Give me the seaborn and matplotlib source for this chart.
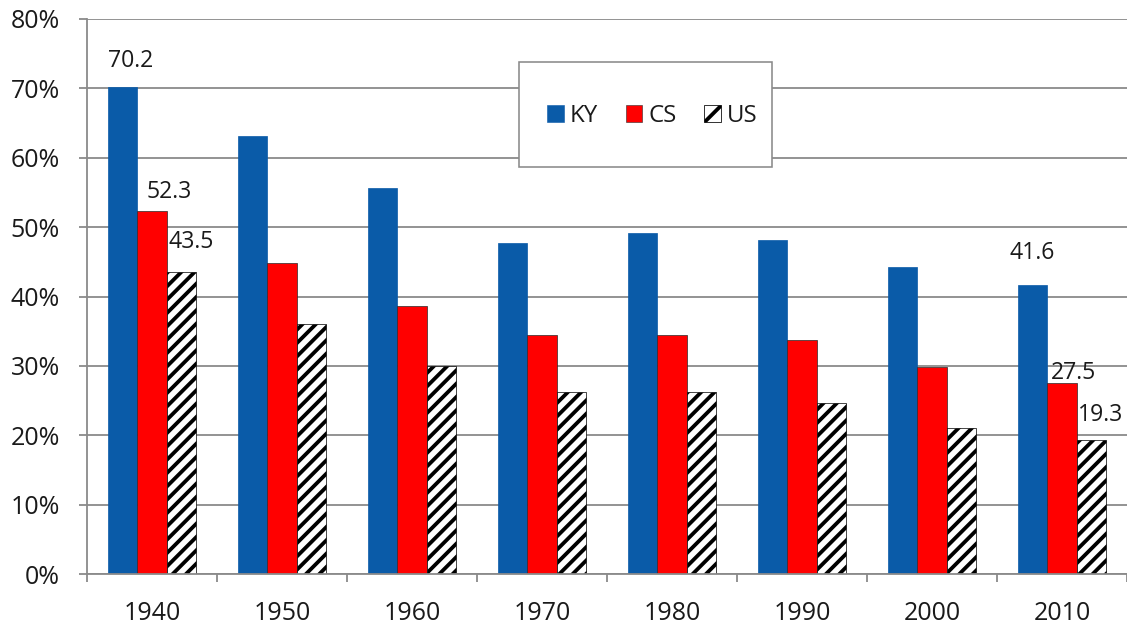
import matplotlib
matplotlib.use("Agg")
import numpy as np
import pandas as pd
import seaborn as sns
import matplotlib.pyplot as plt
from matplotlib.patches import Rectangle, Patch
from matplotlib.ticker import FixedLocator, PercentFormatter

# Census decades and the three series (percent)
years = ["1940", "1950", "1960", "1970", "1980", "1990", "2000", "2010"]
series = ["KY", "CS", "US"]
ky = [70.2, 63.1, 55.6, 47.7, 49.2, 48.1, 44.2, 41.6]
cs = [52.3, 44.9, 38.6, 34.5, 34.5, 33.7, 29.8, 27.5]
us = [43.5, 36.0, 30.0, 26.2, 26.2, 24.7, 21.0, 19.3]
y_ticks = [0, 10, 20, 30, 40, 50, 60, 70, 80]

# value labels: (series, year, x offset px, y offset px)
labelled = [("KY", "1940", 8, 26), ("CS", "1940", 17, 19), ("US", "1940", 10, 30),
            ("KY", "2010", 0, 32), ("CS", "2010", 12, 10), ("US", "2010", 9, 25)]

blue, red = "#0A5BA8", "#FF0000"
grid_col = "#8A8A8A"
DPI = 80
PX = 72 / DPI  # points per pixel

sns.set_theme(style="white")
plt.rcParams["font.family"] = ["Open Sans", "DejaVu Sans"]
plt.rcParams["hatch.linewidth"] = 3.8 * PX
plt.rcParams["text.color"] = "#1a1a1a"

df = pd.DataFrame({
    "year": years * 3,
    "series": np.repeat(series, len(years)),
    "value": ky + cs + us,
})

fig = plt.figure(figsize=(1127 / DPI, 624 / DPI), dpi=DPI)
ax = fig.add_axes([87 / 1127, 50 / 624, 1040 / 1127, 555 / 624])

sns.barplot(data=df, x="year", y="value", hue="series", order=years,
            hue_order=series, palette=[blue, red, "white"], width=0.677,
            saturation=1, legend=False, ax=ax,
            edgecolor="#2a2a2a", linewidth=0.7 * PX)

for bar in ax.containers[0]:
    bar.set_edgecolor(blue)
for bar in ax.containers[2]:
    bar.set_hatch("//")
    bar.set_edgecolor("black")

ax.set_xlim(-0.5, len(years) - 0.5)
ax.set_ylim(0, 80)
ax.set_xlabel("")
ax.set_ylabel("")

ax.yaxis.set_major_locator(FixedLocator(y_ticks))
ax.yaxis.set_major_formatter(PercentFormatter(decimals=0))
ax.yaxis.grid(True, color=grid_col, linewidth=1.8 * PX)
ax.set_axisbelow(True)

ax.xaxis.set_minor_locator(FixedLocator(np.arange(-0.5, len(years), 1.0)))
ax.tick_params(axis="x", which="major", length=0, pad=27 * PX,
               labelsize=25 * PX, labelcolor="#1a1a1a")
ax.tick_params(axis="x", which="minor", bottom=True, length=8 * PX,
               width=1.8 * PX, color=grid_col, direction="out")
ax.tick_params(axis="y", which="major", left=True, length=8 * PX,
               width=1.8 * PX, color=grid_col, direction="out",
               pad=19 * PX, labelsize=25 * PX, labelcolor="#1a1a1a")

for side in ("top", "right"):
    ax.spines[side].set_visible(False)
for side in ("left", "bottom"):
    ax.spines[side].set_color(grid_col)
    ax.spines[side].set_linewidth(1.8 * PX)

# value labels
vals = {"KY": ky, "CS": cs, "US": us}
for name, yr, dx, dy in labelled:
    si = series.index(name)
    yi = years.index(yr)
    bar = ax.containers[si][yi]
    xc = bar.get_x() + bar.get_width() / 2
    v = vals[name][yi]
    ax.annotate(f"{v:.1f}", xy=(xc, v), xytext=(dx, dy),
                textcoords="offset pixels", ha="center", va="center",
                fontsize=23 * PX, annotation_clip=False)

# legend box
ax.add_patch(Rectangle((432 / 1040, 407 / 555), 253 / 1040, 105 / 555,
                       transform=ax.transAxes, facecolor="white",
                       edgecolor=grid_col, linewidth=1.6 * PX, zorder=3))
handles = [Patch(facecolor=blue, edgecolor=blue, linewidth=0.5),
           Patch(facecolor=red, edgecolor="#2a2a2a", linewidth=0.5),
           Patch(facecolor="white", edgecolor="black", hatch="/", linewidth=0.7)]
leg = ax.legend(handles, series, ncol=3, frameon=False, loc="center left",
                bbox_to_anchor=((547 - 87) / 1040, (574 - 116) / 555),
                borderpad=0, borderaxespad=0, handlelength=0.7,
                handleheight=0.7, handletextpad=0.25, columnspacing=1.15,
                fontsize=24 * PX)
leg.set_zorder(4)

fig.savefig("out.png", dpi=DPI)
